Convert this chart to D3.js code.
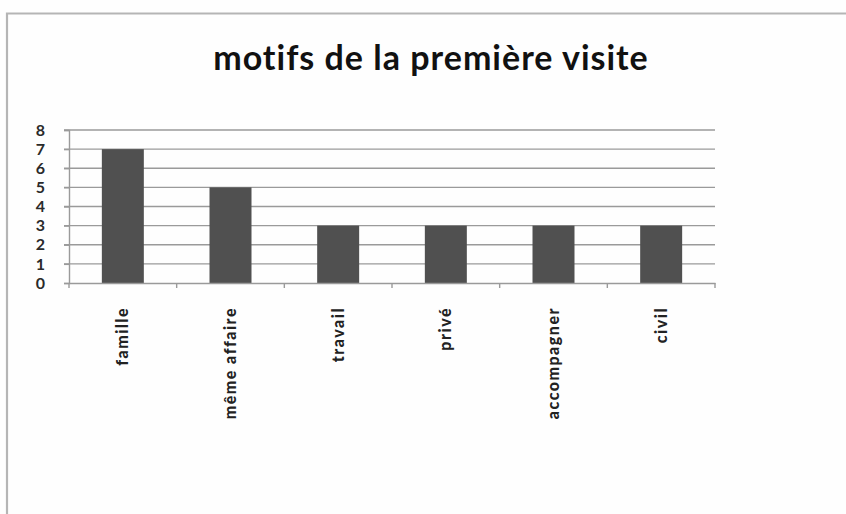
<!DOCTYPE html>
<html><head><meta charset="utf-8">
<script src="https://cdn.jsdelivr.net/npm/d3@7"></script>
<style>body{margin:0;background:#fff}svg{display:block}</style>
</head><body>
<script>
const categories = ["famille","même affaire","travail","privé","accompagner","civil"];
const values = [7,5,3,3,3,3];
const yTicks = [0,1,2,3,4,5,6,7,8];
const title = "motifs de la première visite";

const W = 846, H = 514;
const svg = d3.select("body").append("svg").attr("width", W).attr("height", H);
svg.append("rect").attr("width", W).attr("height", H).attr("fill", "#fefefe");

// frame
svg.append("path").attr("d", `M7,${H} V13.5 H${W}`).attr("fill","none")
  .attr("stroke","#b5b5b5").attr("stroke-width",2.2);

svg.append("text").attr("x", 431).attr("y", 70).attr("text-anchor","middle")
  .attr("font-family","Lato, 'Open Sans', sans-serif").attr("font-weight","bold")
  .attr("font-size", 34).attr("letter-spacing", 1).attr("fill","#111").text(title);

const x = d3.scaleBand().domain(categories).range([69,715]).paddingInner(0.61).paddingOuter(0.305);
const y = d3.scaleLinear().domain([0,8]).range([283,130]);

// gridlines
svg.append("g").selectAll("line").data(yTicks.filter(d=>d>0)).join("line")
  .attr("x1",64).attr("x2",715).attr("y1",d=>y(d)).attr("y2",d=>y(d))
  .attr("stroke","#9a9a9a").attr("stroke-width",1.4);

// y axis
const ya = svg.append("g").attr("transform","translate(69,0)")
  .call(d3.axisLeft(y).tickValues(yTicks).tickSize(5).tickPadding(19));
ya.select(".domain").attr("stroke","#9a9a9a").attr("stroke-width",1.4);
ya.selectAll(".tick line").attr("stroke","#9a9a9a").attr("stroke-width",1.4);
ya.selectAll("text").attr("font-family","Lato, sans-serif").attr("font-weight","bold")
  .attr("font-size",16).attr("fill","#2a2a2a");

// bars
svg.append("g").selectAll("rect").data(values).join("rect")
  .attr("x",(d,i)=>x(categories[i])).attr("width",x.bandwidth())
  .attr("y",d=>y(d)).attr("height",d=>y(0)-y(d)).attr("fill","#505050");

// x axis
const xa = svg.append("g").attr("transform",`translate(0,${y(0)})`)
  .call(d3.axisBottom(x).tickSize(0).tickSizeOuter(0));
xa.select(".domain").attr("stroke","#9a9a9a").attr("stroke-width",1.4);
xa.selectAll(".tick line").remove();
// category boundary ticks
const bounds = d3.range(categories.length+1).map(i=>69 + i*x.step());
xa.append("g").selectAll("line").data(bounds).join("line")
  .attr("x1",d=>d).attr("x2",d=>d).attr("y1",0).attr("y2",5)
  .attr("stroke","#9a9a9a").attr("stroke-width",1.4);
xa.selectAll(".tick text")
  .attr("transform","translate(0,24) rotate(-90)")
  .attr("text-anchor","end").attr("dx",0).attr("dy","0.35em").attr("x",0).attr("y",0)
  .attr("font-family","Lato, sans-serif").attr("font-weight","900")
  .attr("font-size",16).attr("letter-spacing",1.5).attr("fill","#222");
</script>
</body></html>
